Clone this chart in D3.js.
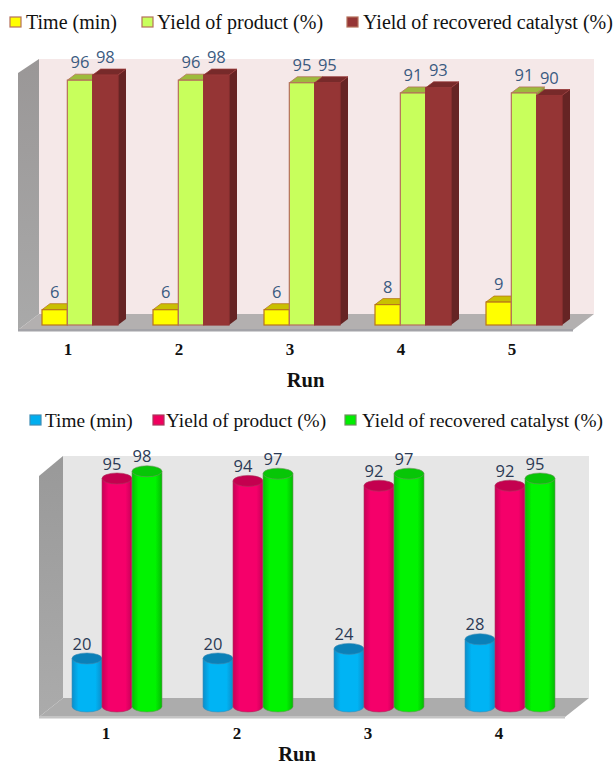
<!DOCTYPE html>
<html>
<head>
<meta charset="utf-8">
<script src="https://cdnjs.cloudflare.com/ajax/libs/d3/7.8.5/d3.min.js"></script>
<style>
html,body{margin:0;padding:0;background:#fff;}
svg{display:block;}
.legend{font-family:"Liberation Serif",serif;fill:#111;}
.cat{font-family:"Liberation Serif",serif;font-size:17px;font-weight:bold;fill:#111;text-anchor:middle;}
.axis-title{font-family:"Liberation Serif",serif;font-size:20.5px;font-weight:bold;fill:#111;text-anchor:middle;}
.val{font-family:"Open Sans",sans-serif;font-size:16.5px;text-anchor:middle;}
</style>
</head>
<body>
<svg id="chart" width="615" height="766"></svg>
<script>
const seriesNames = ["Time (min)", "Yield of product (%)", "Yield of recovered catalyst (%)"];

const topRuns = ["1", "2", "3", "4", "5"];
const topTime = [6, 6, 6, 8, 9];
const topProduct = [96, 96, 95, 91, 91];
const topCatalyst = [98, 98, 95, 93, 90];

const lowerRuns = ["1", "2", "3", "4"];
const lowerTime = [20, 20, 24, 28];
const lowerProduct = [95, 94, 92, 92];
const lowerCatalyst = [98, 97, 97, 95];

const svg = d3.select("#chart");
const defs = svg.append("defs");

// Horizontal shading that gives the cylinders their round look
function cylinderGradient(id, edge, mid) {
  const g = defs.append("linearGradient").attr("id", id);
  g.append("stop").attr("offset", "0%").attr("stop-color", edge);
  g.append("stop").attr("offset", "22%").attr("stop-color", mid);
  g.append("stop").attr("offset", "78%").attr("stop-color", mid);
  g.append("stop").attr("offset", "100%").attr("stop-color", edge);
}
cylinderGradient("cylBlue", "#0b8ecb", "#00b4f4");
cylinderGradient("cylRed", "#c70058", "#f5006a");
cylinderGradient("cylGreen", "#05bb05", "#00f300");

// Side wall and floor of the 3D frame
function drawFrame(g, f) {
  g.append("rect").attr("x", f.backL).attr("y", f.backTop)
    .attr("width", f.backR - f.backL).attr("height", f.backBottom - f.backTop).attr("fill", f.wall);
  g.append("path").attr("fill", "url(#" + f.sideId + ")")
    .attr("d", d3.line()([[f.frontL, f.frontTop], [f.backL, f.backTop], [f.backL, f.backBottom], [f.frontL, f.frontBottom]]) + "Z");
  g.append("path").attr("fill", f.floor)
    .attr("d", d3.line()([[f.frontL, f.frontBottom], [f.backL, f.backBottom], [f.backR, f.backBottom], [f.frontR, f.frontBottom]]) + "Z");
  g.append("rect").attr("x", f.frontL).attr("y", f.frontBottom - 1)
    .attr("width", f.frontR - f.frontL).attr("height", 2.5).attr("fill", f.edge);
}

function drawLegend(g, items, size) {
  items.forEach(d => {
    g.append("rect").attr("x", d.sx).attr("y", d.sy).attr("width", 11).attr("height", 10)
      .attr("fill", d.fill).attr("stroke", d.stroke).attr("stroke-width", 1.2);
    g.append("text").attr("class", "legend").style("font-size", size + "px")
      .attr("x", d.tx).attr("y", d.ty).text(d.label);
  });
}

const sideTop = defs.append("linearGradient").attr("id", "sideTop").attr("x1", 0).attr("y1", 0).attr("x2", 0).attr("y2", 1);
sideTop.append("stop").attr("offset", "0%").attr("stop-color", "#9a9797");
sideTop.append("stop").attr("offset", "100%").attr("stop-color", "#a9a9a9");
const sideLow = defs.append("linearGradient").attr("id", "sideLow").attr("x1", 0).attr("y1", 0).attr("x2", 0).attr("y2", 1);
sideLow.append("stop").attr("offset", "0%").attr("stop-color", "#999999");
sideLow.append("stop").attr("offset", "100%").attr("stop-color", "#ababab");

/* ---------- Upper chart: cuboid bars ---------- */
const upper = svg.append("g");
drawFrame(upper, {
  backL: 39, backR: 594, backTop: 59, backBottom: 314,
  frontL: 18, frontR: 573, frontTop: 73, frontBottom: 330,
  wall: "#f5e8e8", floor: "#b3b0b0", edge: "#a3a3a8", sideId: "sideTop"
});

const topX = d3.scaleBand().domain(topRuns).range([12, 567]);
const topSeries = d3.scaleBand().domain(d3.range(3)).range([30, 106]);
const topY = d3.scaleLinear().domain([0, 100]).range([325, 70]);
const topStyles = [
  { front: "#ffff00", roof: "#c9c000", side: "#b5a800", stroke: "#b8761a" },
  { front: "#c8ff5c", roof: "#9dbb3c", side: "#87a333", stroke: "#b5705a" },
  { front: "#953535", roof: "#772a2a", side: "#662424", stroke: "#953535" }
];
const topValues = [topTime, topProduct, topCatalyst];
const dx = 8, dy = 6;

topRuns.forEach((run, i) => {
  // Later series are painted over earlier ones so each side face stays hidden
  topValues.forEach((vals, s) => {
    const st = topStyles[s];
    const x0 = topX(run) + topSeries(s);
    const w = topSeries.bandwidth();
    const y0 = topY(vals[i]);
    const y1 = topY(0);
    const g = upper.append("g");
    g.append("path").attr("fill", st.side)
      .attr("d", d3.line()([[x0 + w, y0], [x0 + w + dx, y0 - dy], [x0 + w + dx, y1 - dy], [x0 + w, y1]]) + "Z");
    g.append("path").attr("fill", st.roof).attr("stroke", st.stroke).attr("stroke-width", 0.8)
      .attr("d", d3.line()([[x0, y0], [x0 + dx, y0 - dy], [x0 + w + dx, y0 - dy], [x0 + w, y0]]) + "Z");
    g.append("rect").attr("x", x0).attr("y", y0).attr("width", w).attr("height", y1 - y0)
      .attr("fill", st.front).attr("stroke", st.stroke).attr("stroke-width", 1.2);
    upper.append("text").attr("class", "val").attr("fill", "#3a5a80")
      .attr("x", x0 + w / 2).attr("y", y0 - 12).text(vals[i]);
  });
  upper.append("text").attr("class", "cat")
    .attr("x", topX(run) + 56).attr("y", 355).text(run);
});

upper.append("text").attr("class", "axis-title").attr("x", 305.5).attr("y", 387).text("Run");

drawLegend(upper, [
  { sx: 10, sy: 17, tx: 26, ty: 29, fill: "#ffff00", stroke: "#b5705a", label: seriesNames[0] },
  { sx: 142, sy: 17, tx: 157, ty: 29, fill: "#c8ff5c", stroke: "#b5705a", label: seriesNames[1] },
  { sx: 347, sy: 17, tx: 363, ty: 29, fill: "#953535", stroke: "#b5705a", label: seriesNames[2] }
], 20);

/* ---------- Lower chart: cylinders ---------- */
const lower = svg.append("g");
drawFrame(lower, {
  backL: 63, backR: 589, backTop: 456, backBottom: 698,
  frontL: 39, frontR: 565, frontTop: 476, frontBottom: 717,
  wall: "#e6e6e6", floor: "#acacac", edge: "#c4c4c4", sideId: "sideLow"
});

const lowX = d3.scaleBand().domain(lowerRuns).range([40, 564]);
const lowSeries = d3.scaleBand().domain(d3.range(3)).range([32, 122]);
const lowY = d3.scaleLinear().domain([0, 100]).range([706.5, 466.5]);
const lowStyles = [
  { fill: "url(#cylBlue)", cap: "#0a80b8", line: "#3f8db5" },
  { fill: "url(#cylRed)", cap: "#c4004f", line: "#a8385c" },
  { fill: "url(#cylGreen)", cap: "#07c607", line: "#6f9060" }
];
const lowValues = [lowerTime, lowerProduct, lowerCatalyst];

lowerRuns.forEach((run, i) => {
  lowValues.forEach((vals, s) => {
    const st = lowStyles[s];
    const w = lowSeries.bandwidth();
    const x0 = lowX(run) + lowSeries(s);
    const cx = x0 + w / 2;
    const ry = 5.5;
    const y0 = lowY(vals[i]);
    const y1 = lowY(0);
    const g = lower.append("g");
    g.append("path").attr("fill", st.fill).attr("stroke", st.line).attr("stroke-width", 0.6)
      .attr("d", `M${x0},${y0}L${x0},${y1}A${w / 2},${ry} 0 0 0 ${x0 + w},${y1}L${x0 + w},${y0}Z`);
    g.append("ellipse").attr("cx", cx).attr("cy", y0).attr("rx", w / 2).attr("ry", ry)
      .attr("fill", st.cap).attr("stroke", st.line).attr("stroke-width", 0.6);
    lower.append("text").attr("class", "val").attr("fill", "#2b3a55")
      .attr("x", cx - 5).attr("y", y0 - 9).text(vals[i]);
  });
  lower.append("text").attr("class", "cat")
    .attr("x", lowX(run) + 66).attr("y", 739).text(run);
});

lower.append("text").attr("class", "axis-title").attr("x", 297).attr("y", 761).text("Run");

drawLegend(lower, [
  { sx: 30, sy: 415, tx: 45, ty: 427, fill: "#00aeef", stroke: "#3f8db5", label: seriesNames[0] },
  { sx: 153, sy: 415, tx: 166, ty: 427, fill: "#f0005e", stroke: "#a8385c", label: seriesNames[1] },
  { sx: 345, sy: 415, tx: 362, ty: 427, fill: "#00ee00", stroke: "#6f9060", label: seriesNames[2] }
], 19.3);
</script>
</body>
</html>
